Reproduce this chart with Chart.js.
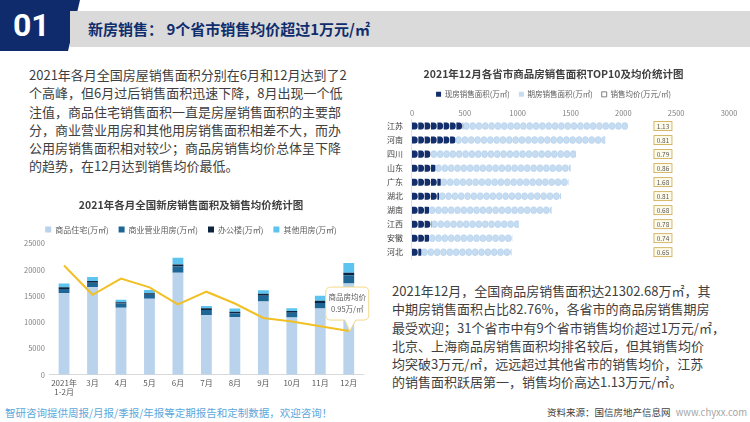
<!DOCTYPE html>
<html>
<head>
<meta charset="utf-8">
<script src="https://cdn.jsdelivr.net/npm/chart.js@4.4.1/dist/chart.umd.min.js"></script>
<style>
  body { margin: 0; background: #fff; font-family: "Noto Sans CJK SC", "Noto Sans", sans-serif; }
  #page { position: relative; width: 750px; height: 422px; overflow: hidden; background: #fff; }
  .navy { position: absolute; left: 0; top: 0; width: 80px; height: 51px; background: #0f2b6b;
          clip-path: polygon(0 0, 80px 0, 68px 51px, 0 51px); }
  .band { position: absolute; left: 70px; top: 11px; width: 680px; height: 36px; background: #dadada; }
  .num { position: absolute; left: 13px; top: 6px; color: #fff; font: 700 32px Roboto, sans-serif; }
  .head { position: absolute; left: 88px; top: 18px; color: #102d6e; font-weight: 700; font-size: 15px; white-space: nowrap; }
  .para { position: absolute; font-size: 13px; line-height: 18.3px; color: #404040; white-space: nowrap; }
  .foot { position: absolute; top: 405px; white-space: nowrap; }
  .box { position: absolute; }
</style>
</head>
<body>
<div id="page">
  <div class="navy"></div>
  <div class="band"></div>
  <div class="num">01</div>
  <div class="head">新房销售： 9个省市销售均价超过1万元/㎡</div>

  <div class="para" style="left:29px; top:66px;">
    2021年各月全国房屋销售面积分别在6月和12月达到了2<br>
    个高峰，但6月过后销售面积迅速下降，8月出现一个低<br>
    注值，商品住宅销售面积一直是房屋销售面积的主要部<br>
    分，商业营业用房和其他用房销售面积相差不大，而办<br>
    公用房销售面积相对较少；商品房销售均价总体呈下降<br>
    的趋势，在12月达到销售均价最低。
  </div>

  <div class="para" style="left:392px; top:282px;">
    2021年12月，全国商品房销售面积达21302.68万㎡，其<br>
    中期房销售面积占比82.76%，各省市的商品房销售期房<br>
    最受欢迎；31个省市中有9个省市销售均价超过1万元/㎡，<br>
    北京、上海商品房销售面积均排名较后，但其销售均价<br>
    均突破3万元/㎡，远远超过其他省市的销售均价，江苏<br>
    的销售面积跃居第一，销售均价高达1.13万元/㎡。
  </div>

  <div class="foot" style="left:5px; font-size:10.5px; color:#5aa8dc;">智研咨询提供周报/月报/季报/年报等定期报告和定制数据，欢迎咨询！</div>
  <div class="foot" style="left:547px; font-size:9.5px; color:#404040;">资料来源：国信房地产信息网 <span style="color:#a6a6a6; margin-left:3px;">www.chyxx.com</span></div>

  <div class="box" style="left:9px; top:195px; width:372px; height:207px;"><canvas id="monthChart"></canvas></div>
  <div class="box" style="left:377px; top:64px; width:370px; height:209px;"><canvas id="provChart"></canvas></div>
</div>

<script>
// ---- 2021年各月全国新房销售面积及销售均价 ----
var months = [["2021年", "1-2月"], "3月", "4月", "5月", "6月", "7月", "8月", "9月", "10月", "11月", "12月"];
var residential = [15570, 16680, 12790, 14480, 19460, 11370, 11030, 13950, 10900, 12650, 17400];
var commercial  = [780, 840, 780, 780, 1170, 960, 680, 1110, 900, 1050, 1560];
var office      = [330, 330, 260, 300, 390, 330, 290, 390, 350, 390, 490];
var otherUse    = [720, 780, 460, 580, 1300, 470, 640, 640, 510, 970, 1830];
var avgPrice    = [1.10, 1.033, 1.07, 1.05, 1.011, 1.04, 1.013, 0.98, 0.972, 0.961, 0.95];

// ---- 2021年12月各省市商品房销售面积TOP10 ----
var provinces = ["江苏", "河南", "四川", "山东", "广东", "湖北", "湖南", "江西", "安徽", "河北"];
var spotArea    = [484, 411, 177, 221, 272, 256, 161, 183, 161, 88];
var forwardArea = [1560, 1418, 1376, 1282, 1209, 1155, 1161, 829, 788, 855];
var provPrice   = [1.13, 0.81, 0.79, 0.86, 1.68, 0.81, 0.68, 0.78, 0.74, 0.65];
var ICON_UNIT = 60;

Chart.defaults.font.family = '"Noto Sans CJK SC", "Noto Sans", sans-serif';
Chart.defaults.color = '#595959';

function plainTick(v) { return String(v); }

// callout for the last price point
var calloutPlugin = {
  id: 'callout',
  afterDatasetsDraw: function(chart) {
    var meta = chart.getDatasetMeta(4);
    var pt = meta.data[meta.data.length - 1];
    if (!pt) return;
    var ctx = chart.ctx;
    var x = pt.x, y = pt.y;
    var l = x - 23, r = x + 20, t = y - 44, b = y - 11, rad = 5;
    ctx.save();
    ctx.beginPath();
    ctx.moveTo(l + rad, t);
    ctx.lineTo(r - rad, t);
    ctx.quadraticCurveTo(r, t, r, t + rad);
    ctx.lineTo(r, b - rad);
    ctx.quadraticCurveTo(r, b, r - rad, b);
    ctx.lineTo(x + 7, b);
    ctx.lineTo(x + 1, y);
    ctx.lineTo(x - 4, b);
    ctx.lineTo(l + rad, b);
    ctx.quadraticCurveTo(l, b, l, b - rad);
    ctx.lineTo(l, t + rad);
    ctx.quadraticCurveTo(l, t, l + rad, t);
    ctx.closePath();
    ctx.fillStyle = '#ffffff';
    ctx.fill();
    ctx.strokeStyle = '#f3d98a';
    ctx.lineWidth = 1;
    ctx.stroke();
    ctx.fillStyle = '#595959';
    ctx.font = '7.5px "Noto Sans CJK SC"';
    ctx.textAlign = 'center';
    ctx.textBaseline = 'middle';
    ctx.fillText('商品房均价', (l + r) / 2, t + 10);
    ctx.fillText(avgPrice[avgPrice.length - 1] + '万/㎡', (l + r) / 2, t + 22);
    ctx.restore();
  }
};

new Chart("monthChart", {
  data: {
    labels: months,
    datasets: [
      { type: 'bar', label: '商品住宅(万㎡)', data: residential, backgroundColor: '#b9d3ec', stack: 's', order: 2 },
      { type: 'bar', label: '商业营业用房(万㎡)', data: commercial, backgroundColor: '#1d6696', stack: 's', order: 2 },
      { type: 'bar', label: '办公楼(万㎡)', data: office, backgroundColor: '#0c2440', stack: 's', order: 2 },
      { type: 'bar', label: '其他用房(万㎡)', data: otherUse, backgroundColor: '#5cc4ee', stack: 's', order: 2 },
      { type: 'line', label: '商品房均价', data: avgPrice, yAxisID: 'y1', borderColor: '#f2bf24', borderWidth: 2,
        pointRadius: 0, tension: 0, order: 1 }
    ]
  },
  options: {
    responsive: true,
    maintainAspectRatio: false,
    animation: false,
    layout: { padding: { left: 10, right: 18, top: 2, bottom: 2 } },
    datasets: { bar: { barPercentage: 0.38, categoryPercentage: 1 } },
    plugins: {
      title: { display: true, text: '2021年各月全国新房销售面积及销售均价统计图', color: '#404040',
               font: { size: 10.5, weight: 'bold' }, padding: { top: 2, bottom: 4 } },
      legend: {
        labels: {
          boxWidth: 6, boxHeight: 6, padding: 10, font: { size: 8 },
          filter: function(item) { return item.datasetIndex < 4; }
        }
      },
      tooltip: { enabled: false }
    },
    scales: {
      x: {
        stacked: true,
        grid: { display: false, drawTicks: false },
        border: { display: true, color: '#d9d9d9' },
        ticks: { font: { size: 8 }, color: '#595959', padding: 3, maxRotation: 0, autoSkip: false }
      },
      y: {
        stacked: true, min: 0, max: 25000,
        grid: { display: false, drawTicks: false },
        border: { display: false },
        ticks: { stepSize: 5000, font: { size: 7.5 }, color: '#7f7f7f', padding: 5, callback: plainTick }
      },
      y1: { display: false, min: 0.85, max: 1.15 }
    }
  },
  plugins: [calloutPlugin]
});

// pictograph bars + price boxes
var pictoPlugin = {
  id: 'picto',
  beforeDatasetDraw: function(chart, args) {
    var i = args.index;
    var ctx = chart.ctx;
    var xs = chart.scales.x;
    if (i === 2) return false;
    var step = xs.getPixelForValue(ICON_UNIT) - xs.getPixelForValue(0);
    ctx.save();
    args.meta.data.forEach(function(el) {
      var p = el.getProps(['x', 'y', 'base', 'height'], true);
      var x0 = Math.min(p.base, p.x), x1 = Math.max(p.base, p.x);
      var h = p.height, r = h / 2;
      ctx.save();
      ctx.beginPath();
      ctx.rect(x0, p.y - r - 1, x1 - x0, h + 2);
      ctx.clip();
      for (var sx = x0; sx < x1; sx += step) {
        ctx.beginPath();
        if (i === 0) {
          var w = step - 0.6;
          var rr = Math.min(r, w / 2);
          ctx.moveTo(sx, p.y - r);
          ctx.lineTo(sx + w - rr, p.y - r);
          ctx.ellipse(sx + w - rr, p.y, rr, r, 0, -Math.PI / 2, Math.PI / 2);
          ctx.lineTo(sx, p.y + r);
          ctx.closePath();
          ctx.fillStyle = '#132f6b';
          ctx.fill();
        } else {
          ctx.ellipse(sx + step / 2, p.y, step / 2 - 0.2, r, 0, 0, Math.PI * 2);
          ctx.fillStyle = '#c6dcf1';
          ctx.fill();
          ctx.strokeStyle = '#abcaea';
          ctx.lineWidth = 0.5;
          ctx.stroke();
        }
      }
      ctx.restore();
    });
    ctx.restore();
    return false;
  },
  afterDatasetsDraw: function(chart) {
    var ctx = chart.ctx;
    var xs = chart.scales.x, ys = chart.scales.y;
    var cx = xs.getPixelForValue(2375);
    ctx.save();
    ctx.font = '6.5px "Noto Sans CJK SC"';
    ctx.textAlign = 'center';
    ctx.textBaseline = 'middle';
    provPrice.forEach(function(v, k) {
      var cy = ys.getPixelForValue(k);
      ctx.fillStyle = '#fffbea';
      ctx.fillRect(cx - 9, cy - 4.5, 18, 9);
      ctx.strokeStyle = '#c8a646';
      ctx.lineWidth = 0.8;
      ctx.strokeRect(cx - 9, cy - 4.5, 18, 9);
      ctx.fillStyle = '#595959';
      ctx.fillText(v.toFixed(2), cx, cy + 0.5);
    });
    ctx.restore();
  }
};

new Chart("provChart", {
  type: 'bar',
  data: {
    labels: provinces,
    datasets: [
      { label: '现房销售面积(万㎡)', data: spotArea, backgroundColor: '#132f6b', stack: 'a' },
      { label: '期房销售面积(万㎡)', data: forwardArea, backgroundColor: '#c6dcf1', stack: 'a' },
      { label: '销售均价(万元/㎡)', data: provPrice, backgroundColor: '#ffffff', borderColor: '#7f7f7f',
        borderWidth: 1, stack: 'p', xAxisID: 'x2' }
    ]
  },
  options: {
    indexAxis: 'y',
    responsive: true,
    maintainAspectRatio: false,
    animation: false,
    layout: { padding: { left: 1, right: 18, top: 2, bottom: 4 } },
    datasets: { bar: { barPercentage: 0.5, categoryPercentage: 1, grouped: false } },
    plugins: {
      title: { display: true, text: '2021年12月各省市商品房销售面积TOP10及均价统计图', color: '#404040',
               font: { size: 10.5, weight: 'bold' }, padding: { top: 2, bottom: 1 } },
      legend: { labels: { boxWidth: 5, boxHeight: 5, padding: 9, font: { size: 7.5 } } },
      tooltip: { enabled: false }
    },
    scales: {
      x: {
        position: 'top', stacked: true, min: 0, max: 3000,
        grid: { display: false, drawTicks: false },
        border: { display: false },
        ticks: { stepSize: 500, font: { size: 7.5 }, color: '#7f7f7f', padding: 1, callback: plainTick }
      },
      x2: { display: false, min: 0, max: 3 },
      y: {
        stacked: true,
        grid: { display: false, drawTicks: false },
        border: { display: true, color: '#e3e3e3' },
        ticks: { font: { size: 8 }, color: '#404040', padding: 9 }
      }
    }
  },
  plugins: [pictoPlugin]
});
</script>
</body>
</html>
